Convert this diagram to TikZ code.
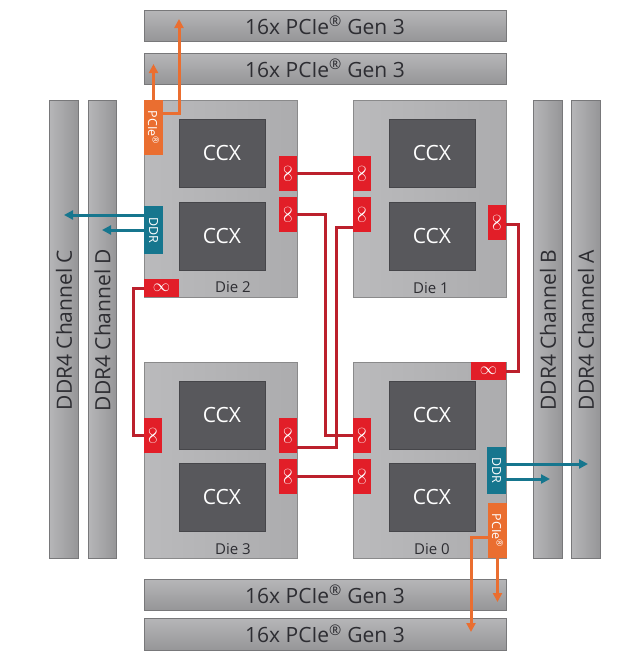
\documentclass[tikz,border=0pt]{standalone}
\usepackage{fontspec}
\setmainfont{Open Sans}
\usetikzlibrary{arrows.meta}
\definecolor{bargray}{RGB}{168,168,170}
\definecolor{bartop}{RGB}{182,182,184}
\definecolor{barbot}{RGB}{150,150,152}
\definecolor{diegray}{RGB}{172,172,174}
\definecolor{dieleft}{RGB}{186,186,188}
\definecolor{ccxgray}{RGB}{88,88,92}
\definecolor{infred}{RGB}{226,30,40}
\definecolor{linered}{RGB}{188,32,44}
\definecolor{amdorange}{RGB}{234,110,48}
\definecolor{amdteal}{RGB}{22,118,142}
\definecolor{txtgray}{RGB}{45,45,50}
\newcommand{\reg}{\textsuperscript{\textregistered}}
\tikzset{
  box/.style={inner sep=0pt, outer sep=0pt, anchor=north west},
  hbar/.style={box, top color=bartop, bottom color=barbot, draw=barbot!80!black, line width=0.4pt,
     font=\fontsize{21}{21}\selectfont, text=txtgray},
  vbar/.style={box, left color=bartop, right color=barbot, draw=barbot!80!black, line width=0.4pt},
  vlabel/.style={rotate=90, font=\fontsize{21}{21}\selectfont, text=txtgray},
  diebox/.style={box, left color=dieleft, right color=diegray, draw=diegray!80!black, line width=0.4pt},
  ccx/.style={box, fill=ccxgray, draw=ccxgray!80!black, line width=0.4pt, minimum width=86pt, minimum height=68pt,
     text=white, font=\fontsize{21}{21}\selectfont},
  dielabel/.style={text=txtgray, font=\fontsize{15}{15}\selectfont},
  infv/.style={box, fill=infred, minimum width=18pt, minimum height=35pt, text=white,
     font=\fontsize{17}{17}\selectfont},
  infh/.style={box, fill=infred, minimum width=35pt, minimum height=18pt, text=white,
     font=\fontsize{17}{17}\selectfont},
  smallv/.style={box, text=white, font=\fontsize{12.5}{12.5}\selectfont},
  redline/.style={draw=linered, line width=3pt},
  orangearrow/.style={draw=amdorange, line width=3pt, -{Triangle[length=9pt,width=9pt]}},
  tealarrow/.style={draw=amdteal, line width=3pt, -{Triangle[length=9pt,width=9pt]}},
}
\newcommand{\vinf}{\rotatebox{90}{$\infty$}}
\begin{document}
\begin{tikzpicture}[x=1pt,y=-1pt]
\useasboundingbox[fill=white] (0,0) rectangle (640,665);
% PCIe bars
\node[hbar, minimum width=362pt, minimum height=31pt] (pT1) at (144,10) {16x PCIe\reg{} Gen 3};
\node[hbar, minimum width=362pt, minimum height=31pt] (pT2) at (144,53) {16x PCIe\reg{} Gen 3};
\node[hbar, minimum width=362pt, minimum height=31pt] (pB1) at (144,579) {16x PCIe\reg{} Gen 3};
\node[hbar, minimum width=362pt, minimum height=32pt] (pB2) at (144,618) {16x PCIe\reg{} Gen 3};
% DDR bars
\node[vbar, minimum width=29pt, minimum height=458pt] (chC) at (49,100) {};
\node[vbar, minimum width=28pt, minimum height=458pt] (chD) at (88,100) {};
\node[vbar, minimum width=29pt, minimum height=458pt] (chB) at (533,100) {};
\node[vbar, minimum width=29pt, minimum height=458pt] (chA) at (571,100) {};
\node[vlabel] (tC) at (64,330) {DDR4 Channel C};
\node[vlabel] (tD) at (102.5,330) {DDR4 Channel D};
\node[vlabel] (tB) at (548,330) {DDR4 Channel B};
\node[vlabel] (tA) at (586,330) {DDR4 Channel A};
% dies
\node[diebox, minimum width=153pt, minimum height=197pt] (die2) at (144,100) {};
\node[diebox, minimum width=153pt, minimum height=197pt] (die1) at (353,100) {};
\node[diebox, minimum width=153pt, minimum height=196pt] (die3) at (144,362) {};
\node[diebox, minimum width=153pt, minimum height=196pt] (die0) at (353,362) {};
% CCX
\node[ccx] (c2a) at (179,119) {CCX};
\node[ccx] (c2b) at (179,202) {CCX};
\node[ccx] (c1a) at (389,119) {CCX};
\node[ccx] (c1b) at (389,202) {CCX};
\node[ccx] (c3a) at (179,381) {CCX};
\node[ccx] (c3b) at (179,463) {CCX};
\node[ccx] (c0a) at (389,381) {CCX};
\node[ccx] (c0b) at (389,463) {CCX};
% die labels
\node[dielabel] (l2) at (233,287) {Die 2};
\node[dielabel] (l1) at (431,288) {Die 1};
\node[dielabel] (l3) at (233,549) {Die 3};
\node[dielabel] (l0) at (432,549) {Die 0};
% PCIe and DDR boxes
\node[smallv, fill=amdorange, minimum width=19pt, minimum height=55pt] (pc2) at (144,100) {\rotatebox{-90}{PCIe\reg}};
\node[smallv, fill=amdorange, minimum width=19pt, minimum height=55pt] (pc0) at (488,503) {\rotatebox{-90}{PCIe\reg}};
\node[smallv, fill=amdteal, minimum width=19pt, minimum height=48pt] (dd2) at (144,206) {\rotatebox{-90}{DDR}};
\node[smallv, fill=amdteal, minimum width=19pt, minimum height=47pt] (dd0) at (487,447) {\rotatebox{-90}{DDR}};
% infinity fabric boxes
\node[infv] (i2a) at (279,156) {\vinf};
\node[infv] (i2b) at (279,197) {\vinf};
\node[infv] (i1a) at (353,156) {\vinf};
\node[infv] (i1b) at (353,197) {\vinf};
\node[infv] (i1c) at (488,205) {\vinf};
\node[infv] (i3a) at (144,418) {\vinf};
\node[infv] (i3b) at (279,418) {\vinf};
\node[infv] (i3c) at (279,459) {\vinf};
\node[infv] (i0a) at (353,418) {\vinf};
\node[infv] (i0b) at (353,459) {\vinf};
\node[infh] (i2d) at (144,279) {$\infty$};
\node[infh] (i0d) at (471,362) {$\infty$};
% red links
\draw[redline] (i2a.east) -- (i1a.west);
\draw[redline] (i2b.east) -- ++(28,0) |- (i0a.west);
\draw[redline] ([yshift=-13pt]i1b.west) -- ++(-17,0) |- ([yshift=-12pt]i3b.east);
\draw[redline] (i3c.east) -- (i0b.west);
\draw[redline] ([yshift=-2pt]i1c.east) -- ++(12,0) |- (i0d.east);
\draw[redline] (i2d.west) -- ++(-11,0) |- (i3a.west);
% orange arrows
\coordinate (oT1) at (179,19);
\coordinate (oT2) at (153.5,64);
\coordinate (oB1) at (497.5,602);
\coordinate (oB2) at (471,632);
\draw[orangearrow] (pc2.north) -- (oT2);
\draw[orangearrow] ([yshift=14pt]pc2.east) -| (oT1);
\draw[orangearrow] (pc0.south) -- (oB1);
\draw[orangearrow] ([yshift=-7pt]pc0.west) -| (oB2);
% teal arrows
\coordinate (tC1) at (64,215);
\coordinate (tD1) at (102,230);
\coordinate (tA1) at (588,464);
\coordinate (tB1) at (550,479);
\draw[tealarrow] ([yshift=15pt]dd2.west) -- (tC1);
\draw[tealarrow] (dd2.west) -- (tD1);
\draw[tealarrow] ([yshift=6.5pt]dd0.east) -- (tA1);
\draw[tealarrow] ([yshift=-8.5pt]dd0.east) -- (tB1);
\end{tikzpicture}
\end{document}
